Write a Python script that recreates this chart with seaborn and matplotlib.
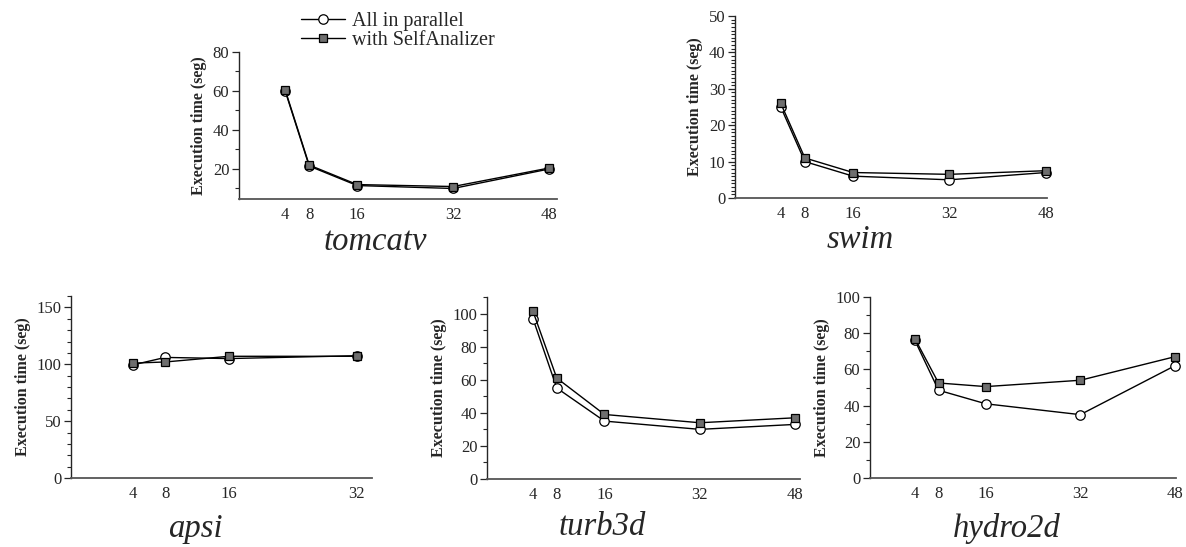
import numpy as np
import pandas as pd
import matplotlib
matplotlib.use('Agg')
import matplotlib.pyplot as plt
from matplotlib.ticker import MultipleLocator
import seaborn as sns

sns.set_style('ticks')
plt.rcParams['font.family'] = ['Liberation Serif', 'DejaVu Serif']

procs = [4, 8, 16, 32, 48]
procs_apsi = [4, 8, 16, 32]

tomcatv_par = [60, 21.5, 11.5, 10, 20]
tomcatv_self = [60.5, 22, 12, 11, 20.5]
swim_par = [25, 10, 6, 5, 7]
swim_self = [26, 11, 7, 6.5, 7.5]
apsi_par = [99.5, 106, 105, 107.5]
apsi_self = [101, 102, 107, 107]
turb3d_par = [97, 55, 35, 30, 33]
turb3d_self = [101.5, 61, 39, 34, 37]
hydro2d_par = [76, 48.5, 41, 35, 62]
hydro2d_self = [77, 52.5, 50.5, 54, 67]

labels = ['All in parallel', 'with SelfAnalizer']

W, H = 1186, 547
fig = plt.figure(figsize=(W / 100, H / 100), dpi=100)

def box(l, r, t, b):
    return [l / W, (H - b) / H, (r - l) / W, (b - t) / H]

panels = [
    # name, x, par, self, axes box (px), xlim, ylim, major, minor, title pos (baseline)
    ('tomcatv', procs, tomcatv_par, tomcatv_self, box(239, 557, 52, 199), (-3.7, 49.3), (4.6, 80), 20, 10, (375, 250)),
    ('swim', procs, swim_par, swim_self, box(735, 1047, 16, 198), (-3.6, 48.2), (0, 50), 10, 1, (860, 248)),
    ('apsi', procs_apsi, apsi_par, apsi_self, box(71, 372, 296, 478), (-3.8, 33.9), (0, 160), 50, 10, (195, 537)),
    ('turb3d', procs, turb3d_par, turb3d_self, box(487, 800, 297, 479), (-3.7, 48.8), (0, 110), 20, 10, (602, 535)),
    ('hydro2d', procs, hydro2d_par, hydro2d_self, box(870, 1176, 297, 478), (-3.6, 48.2), (0, 100), 20, 10, (1007, 537)),
]

for name, xs, par, slf, rect, xlim, ylim, maj, mnr, tpos in panels:
    ax = fig.add_axes(rect)
    df = pd.DataFrame({'procs': xs * 2, 'time': par + slf,
                       'config': [labels[0]] * len(xs) + [labels[1]] * len(xs)})
    sns.lineplot(data=df[df.config == labels[0]], x='procs', y='time', ax=ax,
                 color='black', lw=1, marker='o', markersize=6.8,
                 markerfacecolor='white', markeredgecolor='black', markeredgewidth=0.9,
                 label=labels[0], legend=False, clip_on=False)
    sns.lineplot(data=df[df.config == labels[1]], x='procs', y='time', ax=ax,
                 color='black', lw=1, marker='s', markersize=6,
                 markerfacecolor='#6e6e6e', markeredgecolor='black', markeredgewidth=0.9,
                 label=labels[1], legend=False, clip_on=False)
    ax.set_xlim(*xlim)
    ax.set_ylim(*ylim)
    ax.set_xticks(xs)
    ax.set_xticklabels([str(v) for v in xs])
    ax.yaxis.set_major_locator(MultipleLocator(maj))
    ax.yaxis.set_minor_locator(MultipleLocator(mnr))
    ax.tick_params(axis='x', length=0, labelsize=12, pad=6)
    ax.tick_params(axis='y', which='major', length=5, width=0.9, labelsize=12, pad=2)
    ax.tick_params(axis='y', which='minor', length=3, width=0.8)
    sns.despine(ax=ax)
    ax.spines['left'].set_linewidth(1)
    ax.spines['bottom'].set_linewidth(1.3)
    ax.spines['bottom'].set_color('#555555')
    ax.set_xlabel('')
    ax.set_ylabel('Execution time (seg)', fontsize=11.5, fontweight='bold', labelpad=4)
    ax.grid(False)
    fig.text(tpos[0] / W, 1 - tpos[1] / H, name, fontsize=23.5, style='italic',
             ha='center', va='baseline')
    if name == 'tomcatv':
        handles, _ = ax.get_legend_handles_labels()

fig.legend(handles, labels, loc='upper left', bbox_to_anchor=(293 / W, 1 - 4 / H),
           frameon=False, fontsize=14.5, handlelength=2.2, handletextpad=0.35,
           labelspacing=0.0, borderaxespad=0)

fig.savefig('out.png', dpi=100)
